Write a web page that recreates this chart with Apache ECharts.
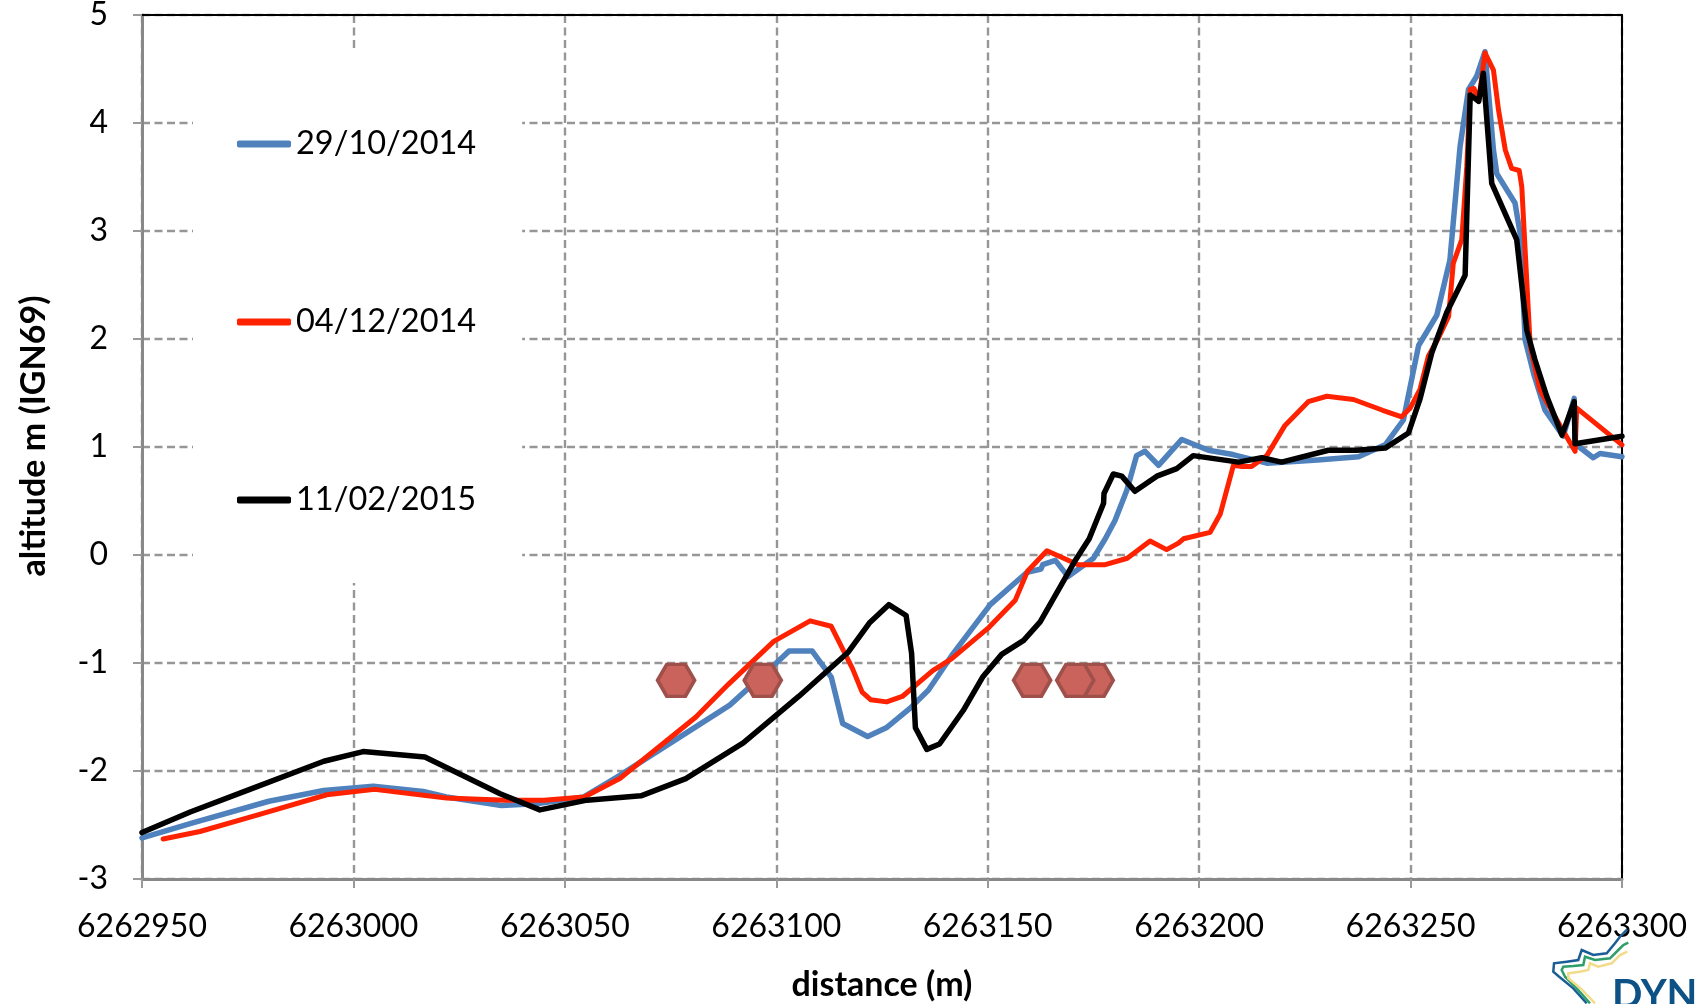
<!DOCTYPE html>
<html>
	<head>
		<meta charset="UTF-8">
		<title>profil altitude</title>
		<script src="https://cdn.jsdelivr.net/npm/echarts@6.0.0/dist/echarts.min.js" type="text/javascript" charset="utf-8"></script>
		<style>
			html, body { margin: 0; padding: 0; background: #fff; }
			#chart1 { width: 1702px; height: 1004px; }
		</style>
	</head>
	<body>
		<div id="chart1"></div>
	</body>
</html>

<script type="text/javascript">
	// dates des levés
	var seriesNames = ['29/10/2014', '04/12/2014', '11/02/2015'];
	var seriesColors = ['#4f81bd', '#ff2200', '#000000'];

	// axes
	var xMin = 6262950, xMax = 6263300, xStep = 50;
	var yMin = -3, yMax = 5, yStep = 1;

	// profil 29/10/2014 [distance, altitude]
	var profileOct2014 = [
		[6262950, -2.62], [6262962, -2.48], [6262980, -2.28], [6262993, -2.18], [6263004.7, -2.14],
		[6263016.5, -2.19], [6263022, -2.24], [6263035, -2.32], [6263044, -2.30], [6263054.5, -2.24],
		[6263063, -2.04], [6263089, -1.39], [6263100, -1.00], [6263103, -0.89], [6263108.5, -0.89],
		[6263113, -1.13], [6263115.7, -1.56], [6263121.6, -1.68], [6263126, -1.60], [6263131.6, -1.42],
		[6263136, -1.25], [6263141.5, -0.93], [6263150.6, -0.46], [6263159.3, -0.16], [6263162.6, -0.13],
		[6263163, -0.09], [6263166, -0.05], [6263169, -0.20], [6263175, -0.03], [6263177.8, 0.15],
		[6263180.1, 0.32], [6263182.9, 0.60], [6263185.2, 0.92], [6263187.2, 0.96], [6263190.4, 0.83],
		[6263195.9, 1.07], [6263202.2, 0.97], [6263208, 0.93], [6263216, 0.85], [6263228, 0.88],
		[6263237.7, 0.91], [6263244, 1.02], [6263248.3, 1.25], [6263251.9, 1.94], [6263256.2, 2.22],
		[6263259.3, 2.73], [6263261.7, 3.78], [6263263.7, 4.31], [6263265.6, 4.43], [6263267.6, 4.66],
		[6263269.6, 3.75], [6263270.4, 3.53], [6263274.7, 3.26], [6263275.9, 2.98], [6263277.1, 1.99],
		[6263279.1, 1.68], [6263281.8, 1.34], [6263286.1, 1.10], [6263288.7, 1.45], [6263288.9, 1.03],
		[6263293.2, 0.90], [6263294.8, 0.94], [6263300, 0.91]
	];

	// profil 04/12/2014
	var profileDec2014 = [
		[6262955, -2.63], [6262963.7, -2.56], [6262977, -2.41], [6262993.7, -2.22], [6263005, -2.17],
		[6263022, -2.25], [6263036, -2.27], [6263045, -2.27], [6263054.6, -2.24], [6263063, -2.07],
		[6263081, -1.50], [6263088.6, -1.20], [6263099.4, -0.80], [6263108, -0.61], [6263113, -0.66],
		[6263118, -1.05], [6263120.3, -1.27], [6263122.3, -1.34], [6263126.1, -1.36], [6263129.8, -1.31],
		[6263137, -1.07], [6263141.5, -0.96], [6263150.3, -0.67], [6263156.5, -0.42], [6263159.4, -0.15],
		[6263164, 0.04], [6263171.4, -0.09], [6263177.8, -0.09], [6263183, -0.03], [6263188.4, 0.13],
		[6263192.3, 0.05], [6263195.1, 0.11], [6263196.3, 0.15], [6263202.6, 0.21], [6263205, 0.38],
		[6263208.1, 0.83], [6263210.1, 0.82], [6263212.4, 0.82], [6263216, 0.92], [6263220.3, 1.20],
		[6263225.8, 1.42], [6263230.2, 1.47], [6263236.5, 1.44], [6263243.4, 1.34], [6263247.9, 1.28],
		[6263249.9, 1.36], [6263252.2, 1.53], [6263254.2, 1.84], [6263256.6, 2.01], [6263259, 2.21],
		[6263260.1, 2.70], [6263262.1, 2.92], [6263263.3, 3.60], [6263264.1, 4.31], [6263265, 4.32],
		[6263266.1, 4.20], [6263267.6, 4.65], [6263269.6, 4.49], [6263270.8, 4.12], [6263272.4, 3.75],
		[6263273.9, 3.58], [6263275.7, 3.56], [6263276.3, 3.41], [6263278.3, 1.93], [6263280.6, 1.53],
		[6263284.6, 1.25], [6263288.9, 0.96], [6263289.3, 1.36], [6263300, 1.02]
	];

	// profil 11/02/2015
	var profileFeb2015 = [
		[6262950, -2.57], [6262961.4, -2.38], [6262975.5, -2.17], [6262993, -1.91], [6263002.3, -1.82],
		[6263016.9, -1.87], [6263034.7, -2.21], [6263044.1, -2.36], [6263055.2, -2.27], [6263068, -2.23],
		[6263078.6, -2.07], [6263092.2, -1.74], [6263105.3, -1.31], [6263117, -0.90], [6263122, -0.63],
		[6263126.6, -0.46], [6263130.7, -0.56], [6263132, -0.91], [6263132.9, -1.60], [6263135.6, -1.80],
		[6263138.6, -1.75], [6263144.2, -1.44], [6263148.8, -1.13], [6263153.3, -0.92], [6263158.5, -0.79],
		[6263162.4, -0.62], [6263167.2, -0.29], [6263170.7, -0.05], [6263174, 0.15], [6263177.4, 0.48],
		[6263177.5, 0.57], [6263179.7, 0.75], [6263181.7, 0.73], [6263184.8, 0.59], [6263190, 0.73],
		[6263194.7, 0.80], [6263198.6, 0.92], [6263209.3, 0.86], [6263214.8, 0.90], [6263219.5, 0.86],
		[6263230.6, 0.97], [6263237.3, 0.97], [6263244, 0.99], [6263249.5, 1.13], [6263252.2, 1.44],
		[6263255, 1.87], [6263258.6, 2.25], [6263262.9, 2.59], [6263264.1, 4.26], [6263266.1, 4.20],
		[6263267.2, 4.46], [6263269.2, 3.44], [6263275.1, 2.92], [6263277.5, 2.08], [6263279.4, 1.81],
		[6263282.2, 1.47], [6263285.8, 1.11], [6263288.7, 1.42], [6263288.9, 1.03], [6263300, 1.10]
	];

	// repères hexagonaux
	var markerX = [6263076.3, 6263096.8, 6263160.5, 6263175.3, 6263170.7];
	var markerY = [-1.16, -1.16, -1.16, -1.16, -1.16];

	var FONT = 'Lato';
	var hexPath = 'path://M0,433 L250,0 L750,0 L1000,433 L750,866 L250,866 Z';

	var profiles = [profileOct2014, profileDec2014, profileFeb2015];
	var lineWidths = [5.5, 5, 5.5];

	var series = profiles.map(function (d, i) {
		return {
			name: seriesNames[i],
			type: 'line',
			data: d,
			showSymbol: false,
			symbol: 'none',
			z: 2,
			itemStyle: { color: seriesColors[i] },
			lineStyle: { color: seriesColors[i], width: lineWidths[i], join: 'round', cap: 'round' }
		};
	});
	series.push({
		name: 'reperes',
		type: 'scatter',
		data: markerX.map(function (x, i) { return [x, markerY[i]]; }),
		symbol: hexPath,
		symbolSize: [37, 32],
		z: 5,
		itemStyle: { color: '#c9635c', borderColor: '#a0504a', borderWidth: 3.5, opacity: 1 }
	});

	var gridLine = { show: true, lineStyle: { color: '#969696', width: 2.4, type: [8, 4.5] } };

	var chart1 = echarts.init(document.getElementById('chart1'));
	var option = {
		backgroundColor: '#fff',
		animation: false,
		grid: {
			left: 142, right: 80, top: 15, bottom: 125,
			outerBoundsMode: 'none'
		},
		legend: {
			data: seriesNames,
			orient: 'vertical',
			left: 193,
			top: 50,
			padding: [77, 46, 66, 44],
			itemGap: 144,
			itemWidth: 54,
			itemHeight: 7,
			icon: 'roundRect',
			backgroundColor: '#fff',
			selectedMode: false,
			z: 10,
			textStyle: { fontFamily: FONT, fontSize: 32.5, lineHeight: 34, color: '#000' }
		},
		xAxis: [{
			type: 'value',
			min: xMin, max: xMax, interval: xStep,
			name: 'distance (m)',
			nameLocation: 'middle',
			nameGap: 89,
			nameTextStyle: { fontFamily: FONT, fontSize: 34, fontWeight: 'bold', color: '#000' },
			axisLine: { show: true, onZero: false, lineStyle: { color: '#888', width: 3 } },
			axisTick: { show: true, length: 9, lineStyle: { color: '#999', width: 2 } },
			axisLabel: {
				margin: 32, fontFamily: FONT, fontSize: 32, color: '#000',
				showMinLabel: true, showMaxLabel: true,
				formatter: function (v) { return String(v); }
			},
			splitLine: gridLine
		}, {
			// cadre haut
			type: 'value', position: 'top',
			min: xMin, max: xMax, interval: xStep,
			axisLine: { show: true, onZero: false, lineStyle: { color: '#000', width: 2 } },
			axisTick: { show: false }, axisLabel: { show: false }, splitLine: { show: false }
		}],
		yAxis: [{
			type: 'value',
			min: yMin, max: yMax, interval: yStep,
			name: 'altitude m (IGN69)',
			nameLocation: 'middle',
			nameGap: 91,
			nameTextStyle: { fontFamily: FONT, fontSize: 34, fontWeight: 'bold', color: '#000', padding: [0, 0, 0, 22] },
			axisLine: { show: true, onZero: false, lineStyle: { color: '#888', width: 3 } },
			axisTick: { show: true, length: 9, lineStyle: { color: '#999', width: 2 } },
			axisLabel: { margin: 34, fontFamily: FONT, fontSize: 32, color: '#000' },
			splitLine: gridLine
		}, {
			// cadre droit
			type: 'value', position: 'right',
			min: yMin, max: yMax, interval: yStep,
			axisLine: { show: true, onZero: false, lineStyle: { color: '#000', width: 2 } },
			axisTick: { show: false }, axisLabel: { show: false }, splitLine: { show: false }
		}],
		series: series,
		// logo en bas à droite
		graphic: [
			{ type: 'polyline', silent: true, z: 20, shape: { points: [[1586.7, 1003.3], [1573.3, 988.3], [1558.3, 976], [1553.3, 971.7], [1554, 963.3], [1566.7, 961.7], [1578.3, 960], [1581.7, 950], [1593.3, 955], [1606.7, 953.3], [1615, 943.3], [1620, 936.7], [1625, 931.7], [1627.3, 929.3]] }, style: { stroke: '#1b5e96', lineWidth: 2.5, fill: null } },
			{ type: 'polyline', silent: true, z: 20, shape: { points: [[1590, 1003.3], [1576.7, 988.3], [1565, 976.7], [1561.7, 970], [1563.3, 966.7], [1573.3, 966], [1583.3, 965], [1585, 956.7], [1595, 960], [1610, 958.3], [1618.3, 950], [1623.3, 945], [1628.3, 942.7]] }, style: { stroke: '#2e9e6b', lineWidth: 2.5, fill: null } },
			{ type: 'polyline', silent: true, z: 20, shape: { points: [[1595, 1003.3], [1581.7, 989.3], [1568.3, 978.3], [1568.3, 973.3], [1580, 971.7], [1588.3, 970], [1590, 963.3], [1598.3, 966.7], [1611.7, 963.3], [1620, 955], [1627.3, 951.7]] }, style: { stroke: '#f2dc8a', lineWidth: 2.5, fill: null } },
			{ type: 'text', silent: true, z: 20, x: 1612, y: 995, style: { text: 'DYN', fill: '#0d5287', font: 'bold 40px Lato', verticalAlign: 'middle', align: 'left' } }
		]
	};

	chart1.setOption(option);
</script>
